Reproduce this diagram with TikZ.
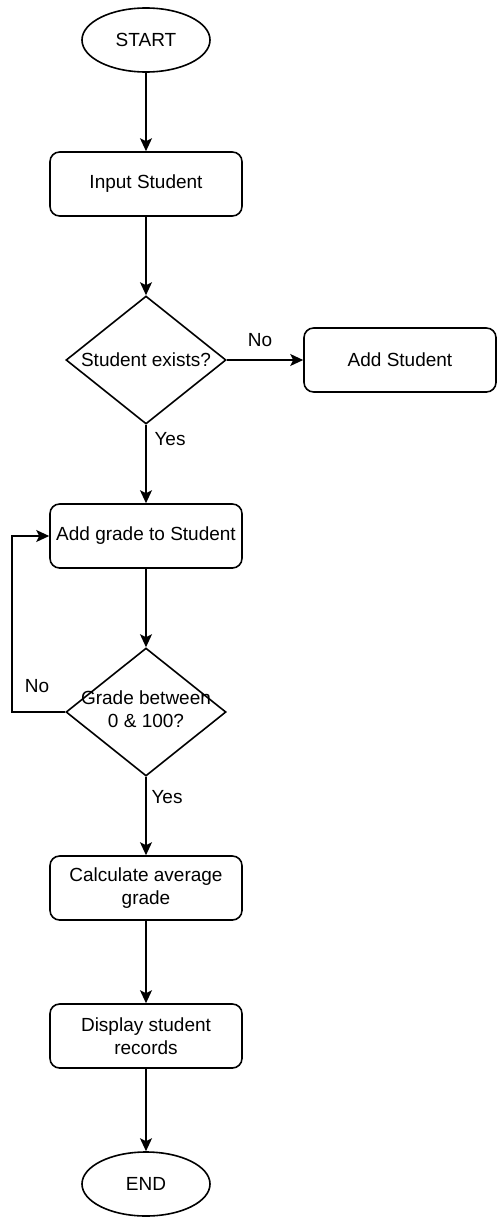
\documentclass[tikz,border=0pt]{standalone}
\usepackage{fontspec}
\setmainfont{Liberation Sans}
\usetikzlibrary{shapes.geometric,arrows.meta}
\begin{document}
\begin{tikzpicture}[x=1pt,y=-1pt,
  every node/.style={font=\fontsize{19}{22.8}\selectfont, text=black},
  term/.style={draw, ellipse, line width=1.6pt, minimum width=128pt, minimum height=64pt, inner sep=0pt},
  proc/.style={draw, rounded corners=9.6pt, line width=1.6pt, minimum width=192pt, minimum height=64pt, inner sep=0pt, align=center},
  dia/.style={draw, diamond, line width=1.6pt, minimum width=160pt, minimum height=128pt, inner sep=0pt},
  dtext/.style={align=center, inner sep=0pt},
  lab/.style={inner sep=0pt},
  arr/.style={draw, line width=1.6pt, -{Stealth[length=13pt,width=12pt,inset=3pt]}}
]
\useasboundingbox (0,0) rectangle (502,1226);

\node[term] (start) at (146,40) {START};
\node[proc] (input) at (146,184) {Input Student};
\node[dia] (d1) at (146,360) {};
\node[dtext] (d1t) at (146,360) {Student exists?};
\node[proc] (adds) at (400,360) {Add Student};
\node[proc] (addg) at (146,536) {Add grade to Student};
\node[dia] (d2) at (146,712) {};
\node[dtext] (d2t) at (146,709) {Grade between\\0 \& 100?};
\node[proc] (calc) at (146,888) {Calculate average\\grade};
\node[proc] (disp) at (146,1036) {Display student\\records};
\node[term] (end) at (146,1184) {END};

\node[lab] (l1) at (260,340) {No};
\node[lab] (l2) at (170,439) {Yes};
\node[lab] (l3) at (37,686) {No};
\node[lab] (l4) at (167,797) {Yes};

\draw[arr] (start) -- (input);
\draw[arr] (input) -- (d1);
\draw[arr] (d1.east) -- (adds.west);
\draw[arr] (d1.south) -- (addg.north);
\draw[arr] (addg) -- (d2);
\draw[arr] (d2.west) -- ++(-53,0) |- (addg.west);
\draw[arr] (d2.south) -- (calc.north);
\draw[arr] (calc) -- (disp);
\draw[arr] (disp) -- (end);
\end{tikzpicture}
\end{document}
